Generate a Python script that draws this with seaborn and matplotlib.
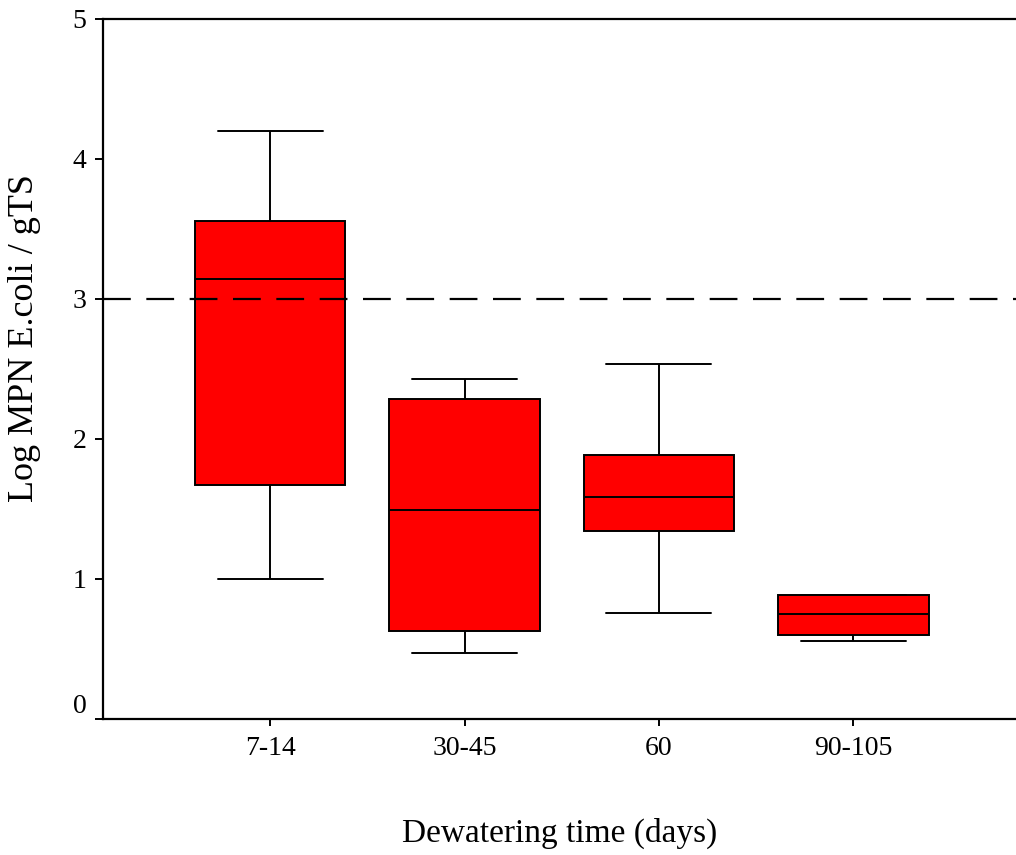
import numpy as np
import pandas as pd
import seaborn as sns
import matplotlib
matplotlib.use("Agg")
import matplotlib.pyplot as plt

# Five-number summaries (min, Q1, median, Q3, max) of log MPN E. coli per gTS
periods = ["7-14", "30-45", "60", "90-105"]
mins    = [1.00, 0.47, 0.757, 0.557]
q1s     = [1.671, 0.629, 1.343, 0.598]
medians = [3.143, 1.493, 1.586, 0.752]
q3s     = [3.555, 2.284, 1.884, 0.886]
maxs    = [4.20, 2.426, 2.536, 0.886]
limit = 3.0  # Class A threshold

yticks = [0, 1, 2, 3, 4, 5]

# Five observations per group reproduce the summary exactly
rows = []
for p, a, b, c, d, e in zip(periods, mins, q1s, medians, q3s, maxs):
    for v in (a, b, c, d, e):
        rows.append({"period": p, "value": v})
df = pd.DataFrame(rows)

sns.set_theme(style="white")
plt.rcParams["font.family"] = ["Liberation Serif", "DejaVu Serif"]

fig = plt.figure(figsize=(10.16, 8.55), dpi=100)
ax = fig.add_axes([103 / 1016, 136 / 855, 913 / 1016, 700 / 855])

sns.boxplot(data=df, x="period", y="value", order=periods, ax=ax,
            color="#ff0000", saturation=1, width=0.776, whis=np.inf,
            linecolor="black", linewidth=1.4, capwidths=0.54,
            showfliers=False)

ax.axhline(limit, color="black", lw=1.6, ls=(0, (12.5, 7)), zorder=5)

ax.set_xlim(-0.859, 3.836)
ax.set_ylim(0, 5)
ax.set_yticks(yticks)
ax.set_yticklabels([str(t) for t in yticks])

for side in ("left", "bottom", "top"):
    ax.spines[side].set_visible(True)
    ax.spines[side].set_color("black")
    ax.spines[side].set_linewidth(1.6)
ax.spines["right"].set_visible(False)

ax.tick_params(axis="y", which="major", left=True, length=6, width=1.4,
               color="black", labelsize=20, pad=6, labelcolor="black")
ax.tick_params(axis="x", which="major", bottom=True, length=5, width=1.4,
               color="black", labelsize=20, pad=7, labelcolor="black")
ax.yaxis.get_major_ticks()[0].label1.set_verticalalignment("bottom")

ax.set_xlabel("Dewatering time (days)", fontsize=24, color="black")
ax.set_ylabel("Log MPN E.coli / gTS", fontsize=26, color="black")
ax.xaxis.set_label_coords(0.5, -0.141)
ax.yaxis.set_label_coords(-0.068, 0.544)

fig.savefig("out.png", dpi=100, facecolor="white")
